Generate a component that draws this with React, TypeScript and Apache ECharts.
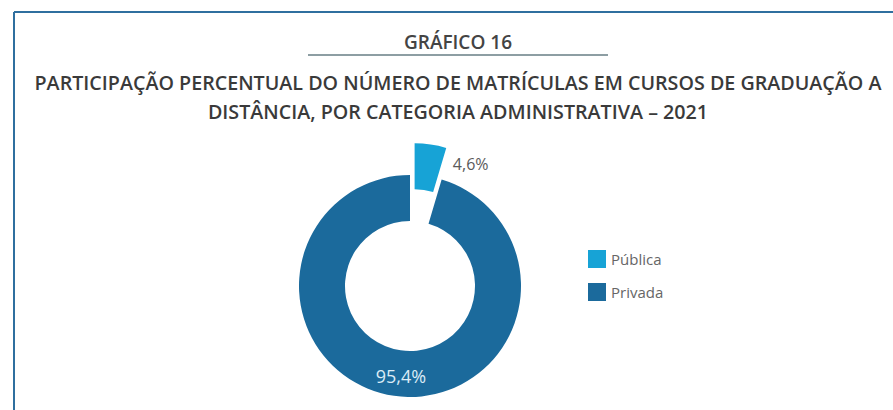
import React, { useEffect, useRef } from "react";
import * as echarts from "echarts";

const categories = ["Pública", "Privada"];
const values = [4.6, 95.4];
const valueLabels = ["4,6%", "95,4%"];
const colors = ["#17a3d6", "#1b6a9c"];

const titleText = "GRÁFICO 16";
const subtitleLines = [
  "PARTICIPAÇÃO PERCENTUAL DO NÚMERO DE MATRÍCULAS EM CURSOS DE GRADUAÇÃO A",
  "DISTÂNCIA, POR CATEGORIA ADMINISTRATIVA – 2021",
];

export default function App() {
  const ref = useRef<HTMLDivElement>(null);
  useEffect(() => {
    if (!ref.current) return;
    const chart = echarts.init(ref.current, null, { renderer: "svg" });
    const font = "'Open Sans', Lato, sans-serif";
    const data = categories.map((name, i) => ({
      name,
      value: values[i],
      selected: i === 0,
      itemStyle: { color: colors[i] },
      label:
        i === 0
          ? {
              show: true,
              position: "inside",
              formatter: valueLabels[i],
              color: "#5a5a5a",
              fontSize: 16,
              fontFamily: font,
              padding: [0, 0, 18, 86],
            }
          : {
              show: true,
              position: "inside",
              formatter: valueLabels[i],
              color: "#dcecf6",
              fontSize: 18,
              fontFamily: font,
              lineHeight: 10,
              verticalAlign: "bottom",
              padding: [0, 0, 0, 8],
            },
    }));
    chart.setOption({
      animation: false,
      backgroundColor: "#ffffff",
      graphic: [
        {
          type: "line",
          shape: { x1: 14, y1: 12, x2: 893, y2: 12 },
          style: { stroke: "#2f6f9f", lineWidth: 2 },
        },
        {
          type: "line",
          shape: { x1: 14, y1: 12, x2: 14, y2: 410 },
          style: { stroke: "#2f6f9f", lineWidth: 2 },
        },
        {
          type: "line",
          shape: { x1: 308, y1: 55, x2: 608, y2: 55 },
          style: { stroke: "#8d9ea3", lineWidth: 2 },
        },
        {
          type: "text",
          x: 458,
          y: 42,
          style: {
            text: titleText,
            fill: "#444444",
            font: `600 19px ${font}`,
            align: "center",
            verticalAlign: "middle",
          },
        },
        ...subtitleLines.map((t, i) => ({
          type: "text",
          x: 458,
          y: 82 + i * 29,
          style: {
            text: t,
            fill: "#3a3a3a",
            font: `600 19.7px ${font}`,
            align: "center",
            verticalAlign: "middle",
          },
        })),
      ],
      legend: {
        orient: "vertical",
        left: 583,
        top: 245,
        itemWidth: 18,
        itemHeight: 18,
        itemGap: 15,
        icon: "rect",
        data: categories,
        selectedMode: false,
        textStyle: {
          color: "#666666",
          fontSize: 15,
          fontFamily: font,
          padding: [0, 0, 0, 0],
        },
      },
      series: [
        {
          type: "pie",
          center: [410, 286],
          radius: [65, 111],
          startAngle: 90,
          clockwise: true,
          selectedMode: "single",
          selectedOffset: 32,
          labelLine: { show: false },
          emphasis: { disabled: true },
          data,
        },
      ],
    });
    return () => chart.dispose();
  }, []);
  return (
    <div
      ref={ref}
      style={{ position: "fixed", left: 0, top: 0, width: 893, height: 410 }}
    />
  );
}
